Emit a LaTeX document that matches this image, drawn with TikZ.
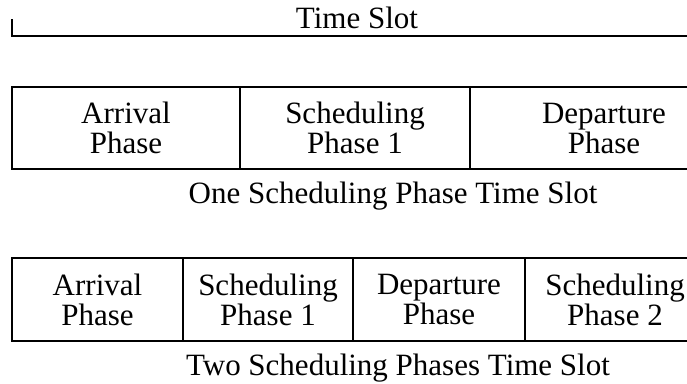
\documentclass[tikz,border=0pt]{standalone}
\usepackage{fontspec}
\setmainfont{Liberation Serif}
\usetikzlibrary{positioning}

\begin{document}
\begin{tikzpicture}[x=1pt,y=-1pt,
    phase/.style={draw,line width=1.4pt,inner sep=0pt,outer sep=0pt,align=center,font=\fontsize{31}{30}\selectfont},
    caption/.style={anchor=base,inner sep=0pt,font=\fontsize{31}{30}\selectfont}]

    \useasboundingbox (0,0) rectangle (687,383);
    \clip (0,0) rectangle (687,383);

    %time slot
    \node [caption] (ts) at (357,28) {Time Slot};
    \coordinate (tl) at (12,19);
    \coordinate (tr) at (720,36);
    \draw [line width=1.4pt] (tl) |- (tr);

    %one scheduling phase
    \node [phase,minimum width=228pt,minimum height=82pt] (arr1) at (126,128) {Arrival\\Phase};
    \node [phase,minimum width=230pt,minimum height=82pt,right=0pt of arr1] (sch1) {Scheduling\\Phase 1};
    \node [phase,minimum width=268pt,minimum height=82pt,right=0pt of sch1] (dep1) {Departure\\Phase};
    \node [caption] (one) at (393,203) {One Scheduling Phase Time Slot};

    %two scheduling phases
    \node [phase,minimum width=171pt,minimum height=83pt] (arr2) at (97.5,299.5) {Arrival\\Phase};
    \node [phase,minimum width=170pt,minimum height=83pt,right=0pt of arr2] (sch2) {Scheduling\\Phase 1};
    \node [phase,minimum width=172pt,minimum height=83pt,right=0pt of sch2] (dep2) {Departure\\Phase};
    \node [phase,minimum width=180pt,minimum height=83pt,right=0pt of dep2] (schb2) {Scheduling\\Phase 2};
    \node [caption] (two) at (398,375) {Two Scheduling Phases Time Slot};
\end{tikzpicture}
\end{document}
